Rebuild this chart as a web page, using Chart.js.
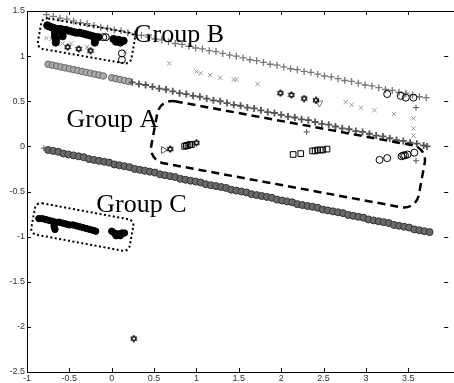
<!DOCTYPE html>
<html>
<head>
<meta charset="utf-8">
<script src="https://cdn.jsdelivr.net/npm/chart.js@4/dist/chart.umd.min.js"></script>
<style>
  html, body { margin: 0; padding: 0; background: #fff; }
</style>
</head>
<body>
<canvas id="grafico" width="454" height="383"></canvas>
<script>
// marcas dos eixos
var xTicks = [-1, -0.5, 0, 0.5, 1, 1.5, 2, 2.5, 3, 3.5];
var yTicks = [-2.5, -2, -1.5, -1, -0.5, 0, 0.5, 1, 1.5];

// linha de cima (+ cinza)
var linha1X = [-0.77,-0.69,-0.61,-0.53,-0.45,-0.37,-0.29,-0.21,-0.13,-0.05,0.03,0.11,0.19,0.27,0.35,0.43,0.51,0.59,0.67,0.75,0.83,0.91,0.99,1.07,1.15,1.23,1.31,1.39,1.47,1.55,1.63,1.71,1.79,1.87,1.95,2.03,2.11,2.19,2.27,2.35,2.43,2.51,2.59,2.67,2.75,2.83,2.91,2.99,3.07,3.15,3.23,3.31,3.39,3.47,3.55,3.63,3.71];
var linha1Y = [1.46,1.44,1.42,1.41,1.39,1.37,1.36,1.34,1.32,1.31,1.29,1.28,1.26,1.24,1.23,1.21,1.19,1.18,1.16,1.14,1.13,1.11,1.09,1.08,1.06,1.05,1.03,1.01,1.00,0.98,0.96,0.95,0.93,0.91,0.90,0.88,0.86,0.85,0.83,0.82,0.80,0.78,0.77,0.75,0.73,0.72,0.70,0.68,0.67,0.65,0.63,0.62,0.60,0.59,0.57,0.55,0.54];

// linha do meio: circulos no inicio, depois +
var meioCircX = [-0.75,-0.70,-0.65,-0.60,-0.55,-0.50,-0.45,-0.40,-0.35,-0.30,-0.25,-0.20,-0.15,-0.10,0.00,0.05,0.10,0.15,0.20];
var meioCircY = [0.91,0.90,0.89,0.88,0.87,0.86,0.85,0.84,0.83,0.82,0.81,0.80,0.79,0.78,0.76,0.75,0.74,0.73,0.72];
var meioX = [0.24,0.32,0.40,0.48,0.56,0.64,0.72,0.80,0.88,0.96,1.04,1.12,1.20,1.28,1.36,1.44,1.52,1.60,1.68,1.76,1.84,1.92,2.00,2.08,2.16,2.24,2.32,2.40,2.48,2.56,2.64,2.72,2.80,2.88,2.96,3.04,3.12,3.20,3.28,3.36,3.44,3.52,3.60,3.68,3.72];
var meioY = [0.71,0.69,0.68,0.66,0.64,0.63,0.61,0.59,0.58,0.56,0.55,0.53,0.51,0.50,0.48,0.46,0.45,0.43,0.42,0.40,0.38,0.37,0.35,0.33,0.32,0.30,0.29,0.27,0.25,0.24,0.22,0.20,0.19,0.17,0.16,0.14,0.12,0.11,0.09,0.07,0.06,0.04,0.03,0.01,0.00];

// linha de baixo (faixa escura)
var linha3X = [-0.75,-0.69,-0.63,-0.57,-0.51,-0.45,-0.39,-0.33,-0.27,-0.21,-0.15,-0.09,-0.03,0.03,0.09,0.15,0.21,0.27,0.33,0.39,0.45,0.51,0.57,0.63,0.69,0.75,0.81,0.87,0.93,0.99,1.05,1.11,1.17,1.23,1.29,1.35,1.41,1.47,1.53,1.59,1.65,1.71,1.77,1.83,1.89,1.95,2.01,2.07,2.13,2.19,2.25,2.31,2.37,2.43,2.49,2.55,2.61,2.67,2.73,2.79,2.85,2.91,2.97,3.03,3.09,3.15,3.21,3.27,3.33,3.39,3.45,3.51,3.57,3.63,3.69,3.75];
var linha3Y = [-0.04,-0.05,-0.06,-0.08,-0.09,-0.10,-0.11,-0.12,-0.14,-0.15,-0.16,-0.17,-0.18,-0.20,-0.21,-0.22,-0.23,-0.25,-0.26,-0.27,-0.28,-0.29,-0.31,-0.32,-0.33,-0.34,-0.36,-0.37,-0.38,-0.39,-0.40,-0.42,-0.43,-0.44,-0.45,-0.46,-0.48,-0.49,-0.50,-0.51,-0.53,-0.54,-0.55,-0.56,-0.57,-0.59,-0.60,-0.61,-0.62,-0.64,-0.65,-0.66,-0.67,-0.68,-0.70,-0.71,-0.72,-0.73,-0.74,-0.76,-0.77,-0.78,-0.79,-0.81,-0.82,-0.83,-0.84,-0.85,-0.87,-0.88,-0.89,-0.90,-0.92,-0.93,-0.94,-0.95];

// Group B
var grupoBX = [-0.76,-0.74,-0.71,-0.68,-0.66,-0.67,-0.67,-0.66,-0.66,-0.63,-0.60,-0.57,-0.58,-0.58,-0.54,-0.50,-0.46,-0.42,-0.38,-0.34,-0.30,-0.26,-0.22,-0.19,-0.20,-0.20,-0.16,0.02,0.05,0.08,0.11,0.14,0.05,0.10];
var grupoBY = [1.34,1.33,1.32,1.31,1.30,1.26,1.22,1.18,1.15,1.30,1.30,1.29,1.25,1.22,1.29,1.28,1.27,1.26,1.26,1.25,1.24,1.23,1.22,1.21,1.18,1.15,1.21,1.19,1.18,1.18,1.17,1.17,1.16,1.15];

// Group C
var grupoCX = [-0.86,-0.82,-0.78,-0.74,-0.70,-0.68,-0.68,-0.67,-0.66,-0.62,-0.58,-0.54,-0.50,-0.46,-0.42,-0.38,-0.34,-0.30,-0.26,-0.22,-0.19,0.00,0.03,0.06,0.09,0.12,0.15,0.05,0.10];
var grupoCY = [-0.80,-0.80,-0.81,-0.82,-0.83,-0.86,-0.89,-0.92,-0.84,-0.84,-0.85,-0.86,-0.87,-0.87,-0.88,-0.89,-0.90,-0.91,-0.92,-0.93,-0.94,-0.94,-0.96,-0.97,-0.97,-0.96,-0.96,-0.99,-0.99];

// circulos abertos
var circX = [-0.76,-0.58,-0.10,-0.07,0.12,0.12,3.25,3.41,3.47,3.56,3.16,3.25,3.57,3.42,3.44,3.46,3.49];
var circY = [1.34,1.25,1.21,1.21,1.03,0.96,0.58,0.56,0.54,0.54,-0.15,-0.13,-0.07,-0.11,-0.10,-0.10,-0.09];

// quadrados abertos (Group A)
var quadX = [0.86,0.88,0.90,0.92,0.94,2.14,2.23,2.37,2.40,2.43,2.46,2.49,2.54];
var quadY = [0.00,0.01,0.01,0.02,0.02,-0.09,-0.08,-0.05,-0.05,-0.04,-0.04,-0.04,-0.03];

// estrelas de seis pontas
var estrelaX = [-0.52,-0.39,-0.25,0.69,1.00,1.99,2.12,2.27,2.41,0.26];
var estrelaY = [1.10,1.08,1.06,-0.03,0.04,0.59,0.57,0.53,0.51,-2.13];

// x cinza entre as linhas
var xisX = [-0.77,-0.71,-0.64,-0.58,-0.48,-0.29,-0.27,0.16,0.68,1.00,1.05,1.16,1.28,1.44,1.47,1.72,2.76,2.83,2.94,3.10,3.33,3.56,3.56,3.56];
var xisY = [1.20,1.19,1.16,1.14,1.14,1.10,1.05,1.05,0.92,0.83,0.81,0.79,0.76,0.74,0.74,0.69,0.49,0.46,0.43,0.40,0.36,0.31,0.20,0.12];

// outros
var triDirX = [0.61], triDirY = [-0.04];
var triBaixoX = [2.45], triBaixoY = [0.48];
var maisX = [3.59, 3.59, 2.30, -0.80], maisY = [0.43, -0.16, 0.16, -0.02];

var grupos = ['Group A', 'Group B', 'Group C'];

function pontos(xs, ys) {
  return xs.map(function (x, i) { return { x: x, y: ys[i] }; });
}

function hexagrama(tam, cor) {
  var c = document.createElement('canvas');
  c.width = tam; c.height = tam;
  var g = c.getContext('2d');
  var m = tam / 2, r = tam / 2 - 0.6;
  g.strokeStyle = cor;
  g.lineWidth = 1;
  for (var k = 0; k < 2; k++) {
    g.beginPath();
    for (var j = 0; j < 3; j++) {
      var a = (k === 0 ? -Math.PI / 2 : Math.PI / 2) + j * 2 * Math.PI / 3;
      var px = m + r * Math.cos(a), py = m + r * Math.sin(a);
      if (j === 0) g.moveTo(px, py); else g.lineTo(px, py);
    }
    g.closePath();
    g.stroke();
  }
  return c;
}

function caixaArredondada(ctx, x, y, w, h, r) {
  ctx.beginPath();
  ctx.moveTo(x + r, y);
  ctx.lineTo(x + w - r, y);
  ctx.arcTo(x + w, y, x + w, y + r, r);
  ctx.lineTo(x + w, y + h - r);
  ctx.arcTo(x + w, y + h, x + w - r, y + h, r);
  ctx.lineTo(x + r, y + h);
  ctx.arcTo(x, y + h, x, y + h - r, r);
  ctx.lineTo(x, y + r);
  ctx.arcTo(x, y, x + r, y, r);
  ctx.closePath();
}

// caixas e textos dos grupos
var pluginGrupos = {
  id: 'grupos',
  afterDatasetsDraw: function (chart) {
    var ctx = chart.ctx, sx = chart.scales.x, sy = chart.scales.y;
    var caixas = [
      { cx: 2.08, cy: -0.087, w: 272, h: 63, ang: 10.5, r: 15, dash: [8, 5], lw: 2.5 },
      { cx: -0.30, cy: 1.169, w: 95, h: 31, ang: 10, r: 6, dash: [2, 2.5], lw: 2 },
      { cx: -0.347, cy: -0.893, w: 100, h: 32, ang: 10.5, r: 6, dash: [2, 2.5], lw: 2 }
    ];
    ctx.save();
    ctx.strokeStyle = '#000';
    caixas.forEach(function (c) {
      ctx.save();
      ctx.translate(sx.getPixelForValue(c.cx), sy.getPixelForValue(c.cy));
      ctx.rotate(c.ang * Math.PI / 180);
      ctx.setLineDash(c.dash);
      ctx.lineWidth = c.lw;
      caixaArredondada(ctx, -c.w / 2, -c.h / 2, c.w, c.h, c.r);
      ctx.stroke();
      ctx.restore();
    });
    var textos = [[-0.533, 0.215], [0.26, 1.156], [-0.183, -0.727]];
    ctx.fillStyle = '#000';
    ctx.font = '26px "Liberation Serif", "Times New Roman", serif';
    ctx.textAlign = 'left';
    ctx.textBaseline = 'alphabetic';
    grupos.forEach(function (t, i) {
      ctx.fillText(t, sx.getPixelForValue(textos[i][0]), sy.getPixelForValue(textos[i][1]));
    });
    ctx.restore();
  }
};

// moldura estilo matlab com marcas para dentro
var pluginMoldura = {
  id: 'moldura',
  afterDraw: function (chart) {
    var ctx = chart.ctx, a = chart.chartArea, sx = chart.scales.x, sy = chart.scales.y;
    ctx.save();
    ctx.strokeStyle = '#000';
    ctx.lineWidth = 1;
    ctx.beginPath();
    ctx.moveTo(a.left + 0.5, a.top + 0.5);
    ctx.lineTo(chart.width, a.top + 0.5);
    ctx.moveTo(a.left + 0.5, a.top + 0.5);
    ctx.lineTo(a.left + 0.5, a.bottom + 0.5);
    ctx.lineTo(chart.width, a.bottom + 0.5);
    xTicks.forEach(function (v) {
      var px = Math.round(sx.getPixelForValue(v)) + 0.5;
      ctx.moveTo(px, a.bottom); ctx.lineTo(px, a.bottom - 4);
      ctx.moveTo(px, a.top); ctx.lineTo(px, a.top + 4);
    });
    yTicks.forEach(function (v) {
      var py = Math.round(sy.getPixelForValue(v)) + 0.5;
      ctx.moveTo(a.left, py); ctx.lineTo(a.left + 4, py);
      ctx.moveTo(a.right, py); ctx.lineTo(a.right - 4, py);
    });
    ctx.stroke();
    ctx.restore();
  }
};

Chart.defaults.font.family = '"Liberation Sans", Arial, sans-serif';
Chart.defaults.font.size = 9;
Chart.defaults.color = '#333';

var ctxGrafico = document.getElementById('grafico').getContext('2d');
new Chart(ctxGrafico, {
  type: 'scatter',
  data: {
    datasets: [
      { data: pontos(grupoBX, grupoBY), pointStyle: 'circle', pointRadius: 3.6, backgroundColor: '#000', borderColor: '#000' },
      { data: pontos(grupoCX, grupoCY), pointStyle: 'circle', pointRadius: 3.2, backgroundColor: '#000', borderColor: '#000' },
      { data: pontos(circX, circY), pointStyle: 'circle', pointRadius: 3.5, backgroundColor: 'rgba(0,0,0,0)', borderColor: '#000', borderWidth: 1 },
      { data: pontos(quadX, quadY), pointStyle: 'rect', pointRadius: 4, backgroundColor: 'rgba(0,0,0,0)', borderColor: '#000', borderWidth: 1 },
      { data: pontos(estrelaX, estrelaY), pointStyle: hexagrama(8, '#000') },
      { data: pontos(triDirX, triDirY), pointStyle: 'triangle', rotation: 90, pointRadius: 4, backgroundColor: 'rgba(0,0,0,0)', borderColor: '#555', borderWidth: 1 },
      { data: pontos(triBaixoX, triBaixoY), pointStyle: 'triangle', rotation: 180, pointRadius: 4, backgroundColor: 'rgba(0,0,0,0)', borderColor: '#777', borderWidth: 1 },
      { data: pontos(maisX, maisY), pointStyle: 'cross', pointRadius: 3, borderColor: '#555', borderWidth: 1 },
      { data: pontos(xisX, xisY), pointStyle: 'crossRot', pointRadius: 3, borderColor: '#999', borderWidth: 1 },
      { data: pontos(linha1X, linha1Y), pointStyle: 'cross', pointRadius: 3.5, borderColor: '#777', borderWidth: 1.3 },
      { data: pontos(meioX, meioY), pointStyle: 'cross', pointRadius: 3.5, borderColor: '#555', borderWidth: 1.8 },
      { data: pontos(meioCircX, meioCircY), pointStyle: 'circle', pointRadius: 3.3, backgroundColor: '#aaa', borderColor: '#666', borderWidth: 1 },
      { data: pontos(linha3X, linha3Y), pointStyle: 'circle', pointRadius: 3.5, backgroundColor: '#6a6a6a', borderColor: '#333', borderWidth: 1 }
    ]
  },
  options: {
    responsive: false,
    animation: false,
    layout: { padding: { top: 11, right: 1, left: 0, bottom: 0 } },
    plugins: { legend: { display: false }, tooltip: { enabled: false } },
    scales: {
      x: {
        type: 'linear', min: -1, max: 3.97,
        grid: { display: false, drawTicks: false },
        border: { display: false },
        ticks: { padding: 1, maxRotation: 0, autoSkip: false, callback: function (v) { return String(v); } },
        afterBuildTicks: function (s) { s.ticks = xTicks.map(function (v) { return { value: v }; }); },
        afterFit: function (s) { s.height = 11; }
      },
      y: {
        type: 'linear', min: -2.5, max: 1.5,
        grid: { display: false, drawTicks: false },
        border: { display: false },
        ticks: { padding: 2, autoSkip: false, callback: function (v) { return String(v); } },
        afterBuildTicks: function (s) { s.ticks = yTicks.map(function (v) { return { value: v }; }); },
        afterFit: function (s) { s.width = 27; }
      }
    }
  },
  plugins: [pluginGrupos, pluginMoldura]
});
</script>
</body>
</html>
